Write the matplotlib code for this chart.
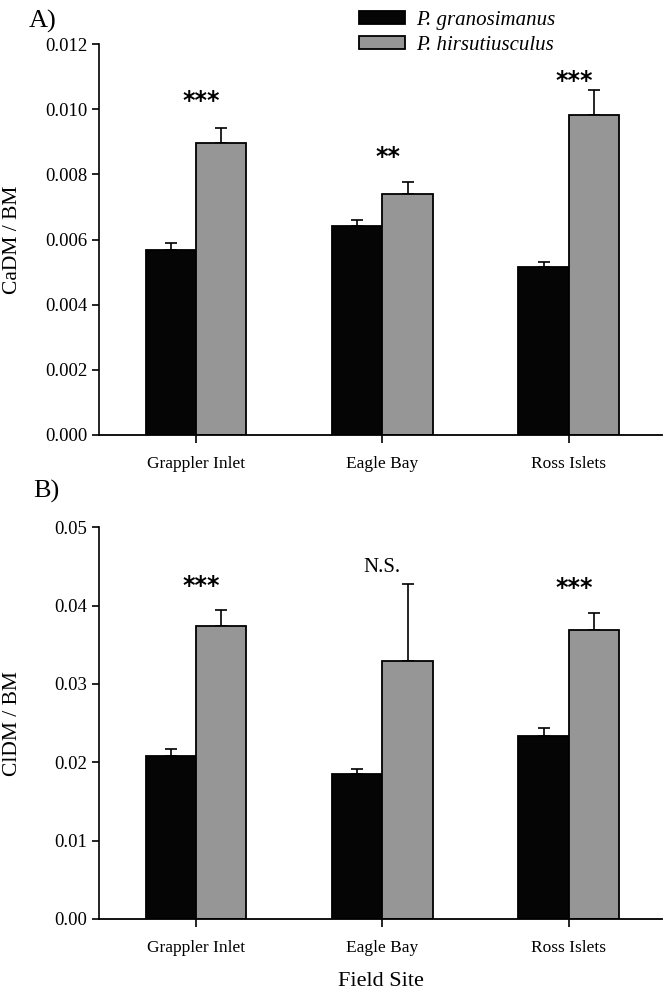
import matplotlib
matplotlib.use("Agg")
import matplotlib.pyplot as plt
import numpy as np
from matplotlib import rcParams
from matplotlib.patches import Patch
from matplotlib.ticker import FormatStrFormatter

rcParams['font.family'] = 'Liberation Serif'

sites = ["Grappler Inlet", "Eagle Bay", "Ross Islets"]
species = ["P. granosimanus", "P. hirsutiusculus"]

ca_gran = [0.00567, 0.00641, 0.00515]
ca_gran_se = [0.00022, 0.00019, 0.00017]
ca_hirs = [0.00895, 0.00741, 0.00983]
ca_hirs_se = [0.00049, 0.00036, 0.00075]
ca_sig = ["***", "**", "***"]
ca_sig_y = [0.01026, 0.00852, 0.01087]

cl_gran = [0.0208, 0.0185, 0.0233]
cl_gran_se = [0.00085, 0.0006, 0.0011]
cl_hirs = [0.0374, 0.0329, 0.0369]
cl_hirs_se = [0.0020, 0.0098, 0.0021]
cl_sig = ["***", "N.S.", "***"]
cl_sig_y = [0.0425, 0.0449, 0.0422]

black = "#050505"
grey = "#969696"

fig = plt.figure(figsize=(6.64, 9.92), dpi=100)
axA = fig.add_axes([0.149, 0.5615, 0.848, 0.394])
axB = fig.add_axes([0.149, 0.0736, 0.848, 0.395])

x = np.arange(len(sites))
w = 0.27


def panel(ax, g, gse, h, hse, sig, sigy, ylim, step, fmt, ylabel):
    ax.bar(x - w / 2, g, w, color=black, edgecolor="black", linewidth=1.3, zorder=2)
    ax.bar(x + w / 2, h, w, color=grey, edgecolor="black", linewidth=1.3, zorder=2)
    ax.errorbar(x - w / 2, g, yerr=[np.zeros(3), gse], fmt="none", ecolor="black",
                elinewidth=1.2, capsize=4.5, capthick=1.2, zorder=1)
    ax.errorbar(x + w / 2, h, yerr=[np.zeros(3), hse], fmt="none", ecolor="black",
                elinewidth=1.2, capsize=4.5, capthick=1.2, zorder=1)
    for xi, s, yy in zip(x, sig, sigy):
        if s == "N.S.":
            ax.text(xi, yy, s, ha="center", va="center", fontsize=15)
        else:
            ax.text(xi + 0.03, yy, s, ha="center", va="center", fontsize=17,
                    fontweight="bold", family="DejaVu Sans")
    ax.set_xlim(-0.52, 2.5)
    ax.set_ylim(*ylim)
    ax.set_yticks(np.arange(0, ylim[1] + step / 2, step))
    ax.yaxis.set_major_formatter(FormatStrFormatter(fmt))
    ax.set_xticks(x)
    ax.set_xticklabels(sites, fontsize=12.5)
    ax.tick_params(axis="y", labelsize=13.5, length=5, width=1.2, direction="out")
    ax.tick_params(axis="x", length=6, width=1.2, direction="out", pad=9)
    ax.spines["top"].set_visible(False)
    ax.spines["right"].set_visible(False)
    ax.spines["left"].set_linewidth(1.2)
    ax.spines["bottom"].set_linewidth(1.3)
    ax.set_ylabel(ylabel, fontsize=15.5)
    ax.yaxis.set_label_coords(-0.137, 0.5)


panel(axA, ca_gran, ca_gran_se, ca_hirs, ca_hirs_se, ca_sig, ca_sig_y,
      (0, 0.012), 0.002, "%.3f", "CaDM / BM")
panel(axB, cl_gran, cl_gran_se, cl_hirs, cl_hirs_se, cl_sig, cl_sig_y,
      (0, 0.05), 0.01, "%.2f", "ClDM / BM")
axB.set_xlabel("Field Site", fontsize=16, labelpad=12)

fig.text(0.043, 0.978, "A)", fontsize=19, va="center")
fig.text(0.05, 0.505, "B)", fontsize=19, va="center")

handles = [Patch(facecolor=black, edgecolor="black", linewidth=1.3),
           Patch(facecolor=grey, edgecolor="black", linewidth=1.3)]
leg = fig.legend(handles, species, loc="upper left", bbox_to_anchor=(0.513, 1.008),
                 frameon=False, prop={"style": "italic", "size": 15},
                 handlelength=2.2, handleheight=0.55, handletextpad=0.5,
                 labelspacing=0.3)

plt.savefig("out.png", dpi=100)
